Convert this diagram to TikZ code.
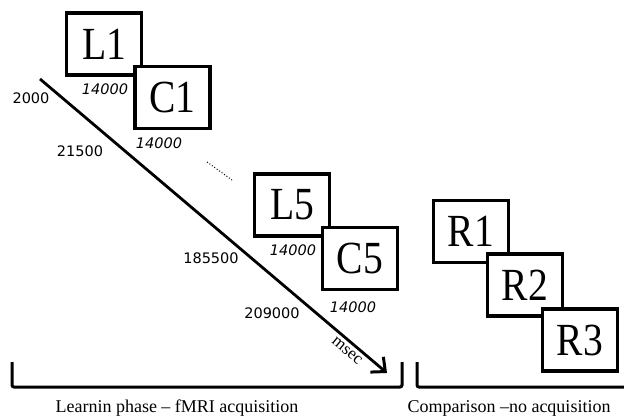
\documentclass[tikz,border=0pt]{standalone}
\usepackage{fontspec}
\setmainfont{Liberation Serif}
\newfontfamily\numfont{DejaVu Sans}
\usetikzlibrary{arrows.meta}
\newcommand{\boxtxt}[1]{\scalebox{0.86}[1]{\fontsize{46}{46}\selectfont #1}}
\tikzset{
  frame/.style={draw=black, line width=3.6pt, fill=white, minimum width=75pt, minimum height=62pt, inner sep=0pt},
  num/.style={font=\numfont\fontsize{14.5}{14.5}\selectfont, inner sep=0pt},
  dur/.style={font=\numfont\itshape\fontsize{14.5}{14.5}\selectfont, inner sep=0pt},
  brace/.style={line width=3pt, rounded corners=2pt},
  caption/.style={font=\fontsize{18}{18}\selectfont, inner sep=0pt}
}
\begin{document}
\begin{tikzpicture}[x=1pt,y=-1pt]
\useasboundingbox (0,0) rectangle (624,417);
% timeline arrow
\coordinate (start) at (40,79);
\coordinate (tip) at (387,373);
\draw[line width=2.8pt, -{Straight Barb[length=11pt,width=20pt,line width=3pt]}] (start) -- (tip);
\node[font=\fontsize{17}{17}\selectfont, rotate=-40, inner sep=0pt] (msec) at (347,351) {msec};
% boxes
\node[frame] (L1) at (104,44) {\boxtxt{L1}};
\node[frame] (C1) at (172.5,97.5) {\boxtxt{C1}};
\node[frame] (L5) at (292,205) {\boxtxt{L5}};
\node[frame] (C5) at (360,258.5) {\boxtxt{C5}};
\node[frame] (R1) at (471,231.5) {\boxtxt{R1}};
\node[frame] (R2) at (525,285) {\boxtxt{R2}};
\node[frame] (R3) at (580,340) {\boxtxt{R3}};
% onset times
\node[num] (t1) at (31,98) {2000};
\node[num] (t2) at (80,151) {21500};
\node[num] (t3) at (211,258) {185500};
\node[num] (t4) at (272,313) {209000};
% durations
\node[dur] (d1) at (105,89) {14000};
\node[dur] (d2) at (159,143) {14000};
\node[dur] (d3) at (293,250) {14000};
\node[dur] (d4) at (353,307) {14000};
% ellipsis
\coordinate (e1) at (207,162);
\coordinate (e2) at (232,180);
\draw[line width=1pt, dash pattern=on 1pt off 2pt] (e1) -- (e2);
% brackets
\coordinate (b1) at (12,362);
\coordinate (b2) at (12,387);
\coordinate (b3) at (402,387);
\coordinate (b4) at (402,362);
\draw[brace] (b1) -- (b2) -- (b3) -- (b4);
\coordinate (c1) at (417,362);
\coordinate (c2) at (417,387);
\coordinate (c3) at (626,387);
\draw[brace] (c1) -- (c2) -- (c3);
\node[caption] (cap1) at (177,408) {Learnin phase – fMRI acquisition};
\node[caption] (cap2) at (509,408) {Comparison –no acquisition};
\end{tikzpicture}
\end{document}
